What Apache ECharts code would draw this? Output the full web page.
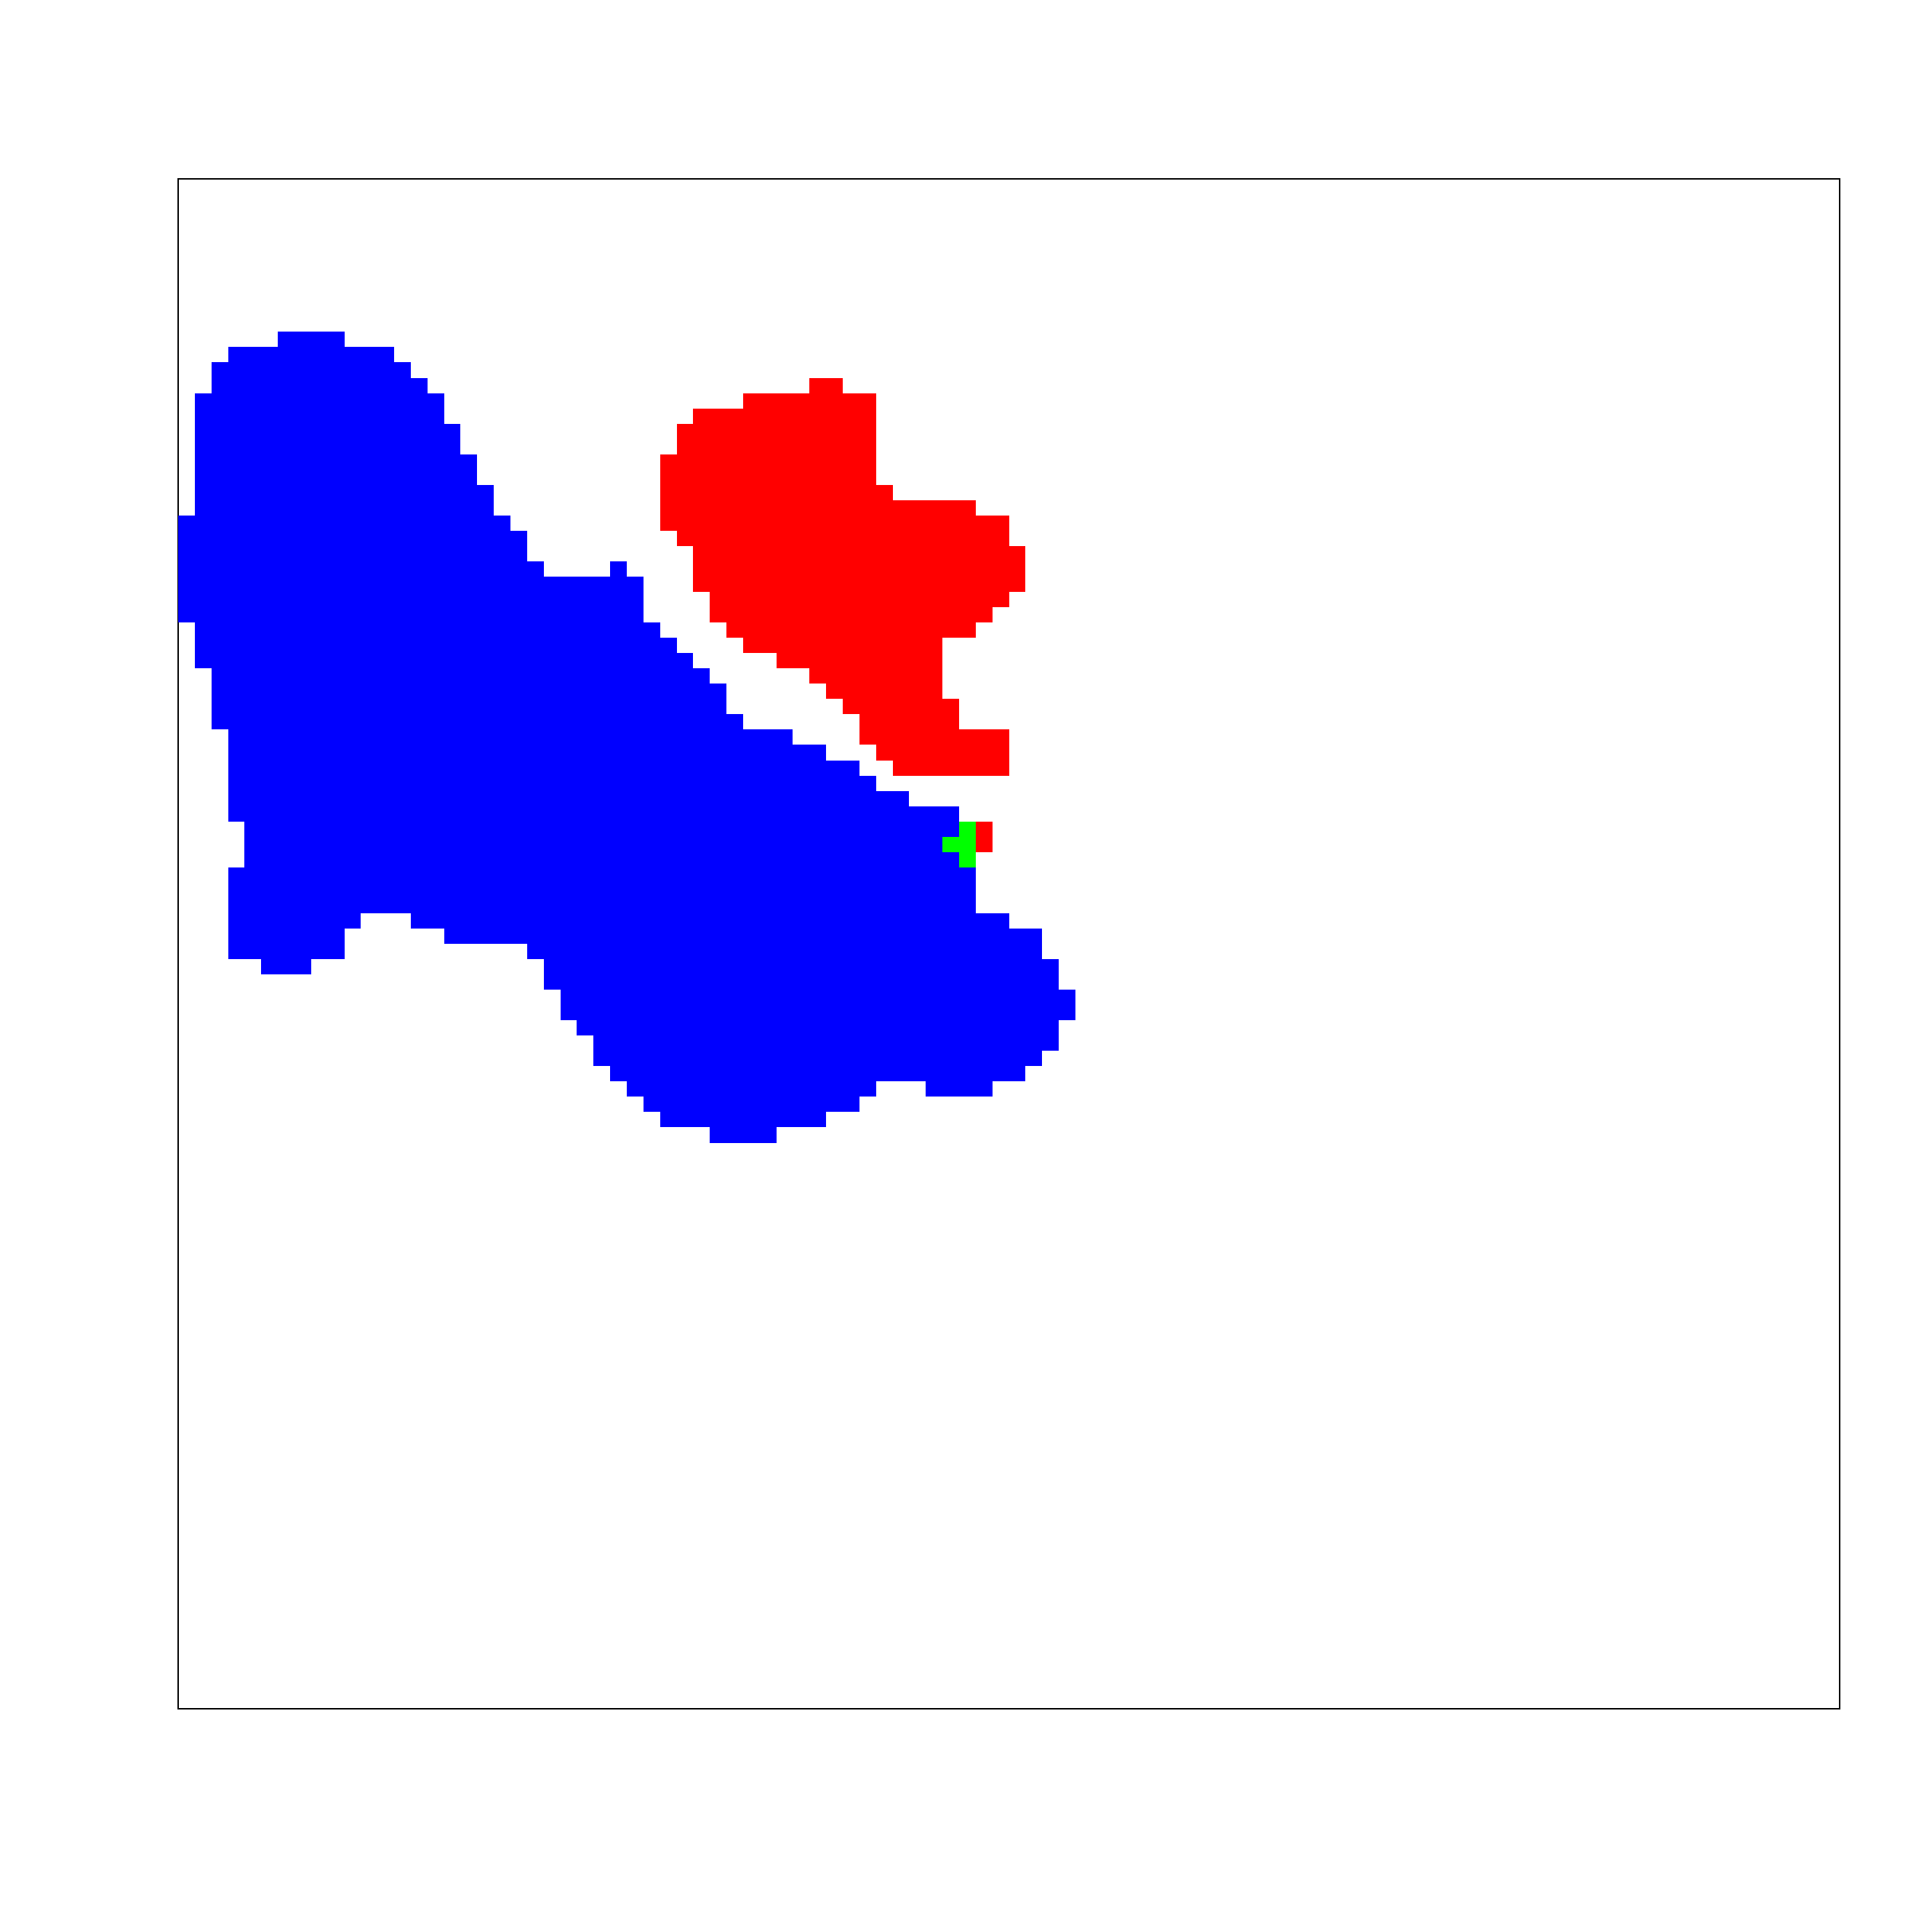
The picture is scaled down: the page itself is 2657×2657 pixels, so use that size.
<!DOCTYPE html>
<html>
<head>
<meta charset="utf-8">
<script src="https://cdn.jsdelivr.net/npm/echarts@6/dist/echarts.min.js"></script>
<style>
html,body{margin:0;padding:0;background:#fff;}
#chart{width:2657px;height:2657px;}
</style>
</head>
<body>
<div id="chart"></div>
<script>
// Raster grid: 100 columns x 100 rows (row 0 at top).
// Each run: [row, firstColumn, lastColumn] of filled cells.
const nCols = 100;
const nRows = 100;

const blueRuns = [
  [10,6,9],[11,3,12],[12,2,13],[13,2,14],[14,1,15],[15,1,15],[16,1,16],[17,1,16],
  [18,1,17],[19,1,17],[20,1,18],[21,1,18],[22,0,19],[23,0,20],[24,0,20],
  [25,0,21],[25,26,26],[26,0,27],[27,0,27],[28,0,27],[29,1,28],[30,1,29],[31,1,30],
  [32,2,31],[33,2,32],[34,2,32],[35,2,33],[36,3,36],[37,3,38],[38,3,40],[39,3,41],
  [40,3,43],[41,3,46],[42,4,46],[43,4,45],[44,4,46],[45,3,47],[46,3,47],[47,3,47],
  [48,3,10],[48,14,49],[49,3,9],[49,16,51],[50,3,9],[50,21,51],[51,5,7],[51,22,52],
  [52,22,52],[53,23,53],[54,23,53],[55,24,52],[56,25,52],[57,25,51],[58,26,50],
  [59,27,41],[59,45,48],[60,28,40],[61,29,38],[62,32,35]
];

const redRuns = [
  [13,38,39],[14,34,41],[15,31,41],[16,30,41],[17,30,41],[18,29,41],[19,29,41],
  [20,29,42],[21,29,47],[22,29,49],[23,30,49],[24,31,50],[25,31,50],[26,31,50],
  [27,32,49],[28,32,48],[29,33,47],[30,34,45],[31,36,45],[32,38,45],[33,39,45],
  [34,40,46],[35,41,46],[36,41,49],[37,42,49],[38,43,49],
  [42,48,48],[43,48,48]
];

const greenRuns = [
  [42,47,47],[43,46,47],[44,47,47]
];

const colors = { blue: '#0000ff', red: '#ff0000', green: '#00ff00' };

function renderRun(params, api) {
  const row = api.value(0);
  const c0 = api.value(1);
  const c1 = api.value(2);
  const p0 = api.coord([c0, row]);
  const p1 = api.coord([c1 + 1, row + 1]);
  const x0 = Math.round(Math.min(p0[0], p1[0]));
  const x1 = Math.round(Math.max(p0[0], p1[0]));
  const y0 = Math.round(Math.min(p0[1], p1[1]));
  const y1 = Math.round(Math.max(p0[1], p1[1]));
  return {
    type: 'rect',
    shape: { x: x0, y: y0, width: x1 - x0, height: y1 - y0 },
    style: { fill: api.visual('color') }
  };
}

function runSeries(name, runs, color) {
  return {
    name: name,
    type: 'custom',
    renderItem: renderRun,
    data: runs,
    encode: { x: [1, 2], y: 0 },
    itemStyle: { color: color },
    silent: true,
    clip: true
  };
}

const chart = echarts.init(document.getElementById('chart'), null, { renderer: 'canvas' });
chart.setOption({
  animation: false,
  backgroundColor: '#ffffff',
  grid: {
    left: 245, top: 246, width: 2285, height: 2104,
    show: true, borderColor: '#000000', borderWidth: 2, backgroundColor: 'transparent'
  },
  xAxis: { type: 'value', min: 0, max: nCols, show: false },
  yAxis: { type: 'value', min: 0, max: nRows, inverse: true, show: false },
  series: [
    runSeries('blue', blueRuns, colors.blue),
    runSeries('red', redRuns, colors.red),
    runSeries('green', greenRuns, colors.green)
  ]
});
</script>
</body>
</html>
